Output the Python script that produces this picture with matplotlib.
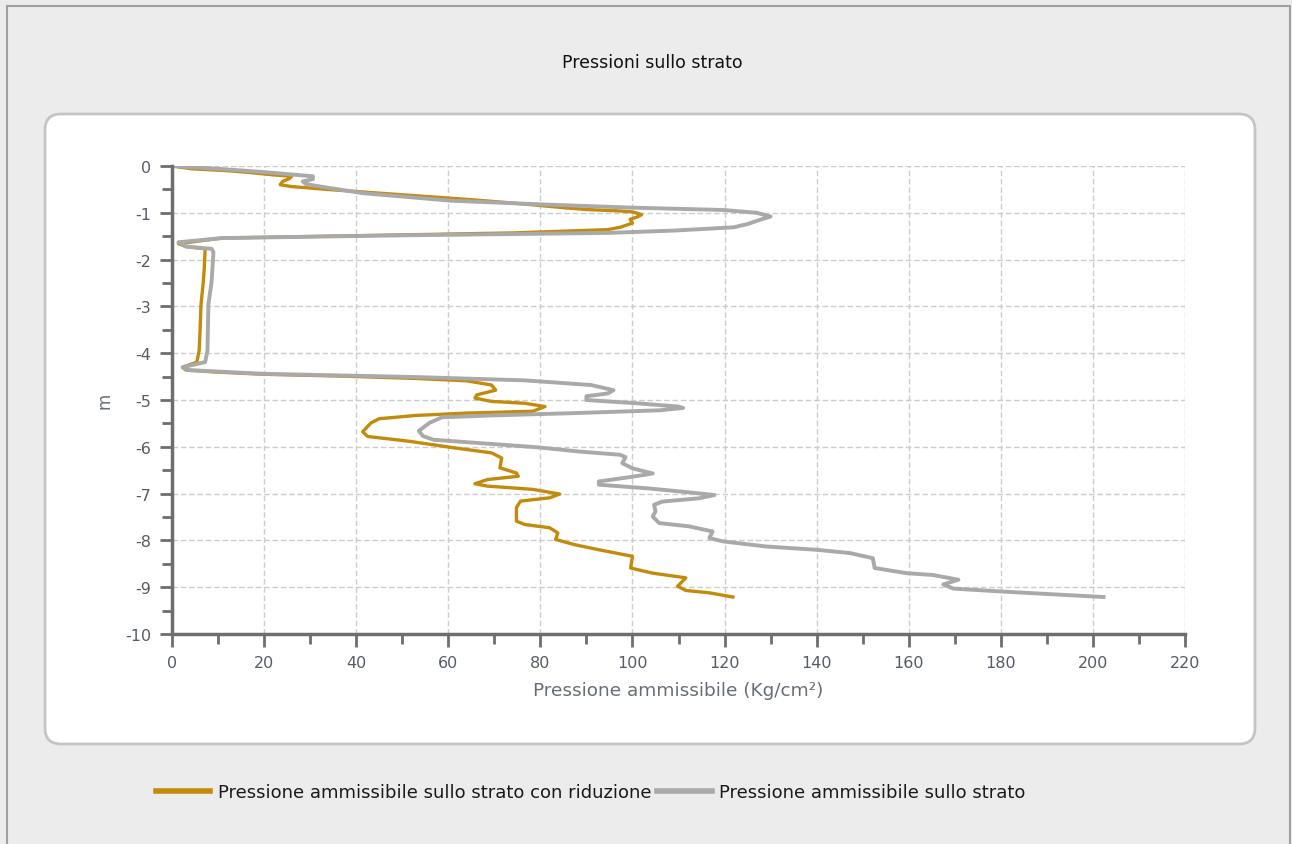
import matplotlib
matplotlib.use('Agg')
import matplotlib.pyplot as plt
from matplotlib.patches import FancyBboxPatch, Rectangle
from matplotlib.transforms import IdentityTransform
from matplotlib.ticker import MultipleLocator

plt.rcParams['font.family'] = ['DejaVu Sans']
plt.rcParams['axes.unicode_minus'] = False

# pressione ammissibile con riduzione (Kg/cm2) vs profondita (m)
rid_p = [0, 4.3, 12, 17, 22, 26, 25.5, 24, 23.5, 26, 35, 45, 55, 65, 75, 85, 90, 97, 100, 102, 101,
         99.5, 100, 97.3, 94.6, 74, 51, 28, 10.8, 1.4, 3, 7.2, 7.0, 6.8, 6.3, 6.1, 5.9, 5.4, 2.3, 3,
         9, 19.8, 37, 53, 64, 69.4, 70.3, 66.2, 65.8, 69.4, 76.6, 81, 78.4, 64, 53, 45, 43.2, 41.4,
         42.5, 51.4, 60.4, 69.4, 71.6, 71.2, 74.8, 75.2, 68.5, 65.8, 68.5, 78.4, 84.2, 82, 75.7, 74.8,
         74.8, 76.6, 82, 83.8, 83.3, 87.4, 92.7, 100, 99.6, 104.4, 111.6, 109.8, 111.6, 116.7, 121.8]
rid_z = [0, -0.06, -0.10, -0.14, -0.19, -0.22, -0.27, -0.33, -0.40, -0.44, -0.51, -0.58, -0.65, -0.72,
         -0.80, -0.89, -0.93, -0.96, -0.98, -1.04, -1.09, -1.14, -1.22, -1.31, -1.36, -1.43, -1.47,
         -1.51, -1.54, -1.66, -1.72, -1.77, -2.2, -2.47, -2.96, -3.5, -3.94, -4.19, -4.30, -4.36,
         -4.40, -4.45, -4.49, -4.54, -4.59, -4.68, -4.79, -4.89, -4.96, -5.03, -5.07, -5.14, -5.24,
         -5.28, -5.33, -5.40, -5.49, -5.68, -5.78, -5.88, -6.01, -6.13, -6.24, -6.45, -6.56, -6.63,
         -6.70, -6.79, -6.84, -6.91, -7.01, -7.09, -7.16, -7.30, -7.59, -7.66, -7.73, -7.84, -7.98,
         -8.09, -8.20, -8.34, -8.59, -8.70, -8.80, -8.98, -9.07, -9.12, -9.21]

# pressione ammissibile sullo strato
str_p = [0, 10, 20, 30.6, 30.6, 28.4, 29, 31, 41.4, 60.4, 80, 100, 119.8, 127, 130, 128, 125, 122,
         109, 94.6, 51, 10.8, 1.4, 3, 8.6, 9, 8.6, 7.9, 7.7, 7.2, 2.3, 3.5, 19.8, 53, 76.6, 91, 95.9,
         94.6, 90, 90, 100.9, 110, 111, 106, 87.4, 69.4, 58.6, 55.9, 53.6, 54.5, 56.8, 69.4, 79.3,
         88.3, 97.3, 98.5, 97.8, 100, 104.4, 100, 92.7, 92.7, 103.6, 110.9, 117.8, 114.5, 106.5,
         104.7, 105, 104.4, 105.8, 112.3, 117.4, 116.7, 119.6, 129, 139.9, 147.2, 152.2, 152.6,
         159.5, 165.3, 170.8, 167.5, 169.7, 179.8, 192.9, 202.3]
str_z = [0, -0.06, -0.13, -0.22, -0.28, -0.33, -0.38, -0.42, -0.58, -0.74, -0.82, -0.89, -0.94, -1.0,
         -1.08, -1.14, -1.24, -1.31, -1.38, -1.43, -1.48, -1.54, -1.63, -1.72, -1.77, -1.84, -2.47,
         -2.96, -3.94, -4.19, -4.30, -4.36, -4.44, -4.51, -4.58, -4.68, -4.79, -4.86, -4.92, -5.0,
         -5.07, -5.14, -5.17, -5.22, -5.28, -5.33, -5.37, -5.49, -5.66, -5.77, -5.85, -5.94, -6.01,
         -6.10, -6.17, -6.22, -6.35, -6.46, -6.57, -6.64, -6.74, -6.81, -6.89, -6.96, -7.03, -7.10,
         -7.17, -7.24, -7.38, -7.49, -7.63, -7.70, -7.81, -7.95, -8.02, -8.13, -8.20, -8.27, -8.38,
         -8.59, -8.70, -8.74, -8.84, -8.94, -9.03, -9.09, -9.16, -9.21]

orange = '#c48a0c'
grey = '#a9a9a9'
tick_col = '#555c66'

fig = plt.figure(figsize=(12.92, 8.45), dpi=100)
fig.patch.set_facecolor('#ececec')

# cornice esterna e pannello bianco arrotondato (coordinate in pixel)
fig.patches.append(Rectangle((7, -5), 1283, 843, transform=IdentityTransform(),
                             facecolor='none', edgecolor='#a0a0a0', linewidth=1.5, zorder=-10))
fig.patches.append(FancyBboxPatch((45, 100), 1210, 630, boxstyle='round,pad=0,rounding_size=16',
                                  transform=IdentityTransform(), facecolor='white',
                                  edgecolor='#c4c4c4', linewidth=2, zorder=-10))

fig.text(652 / 1292, 1 - 63 / 845, 'Pressioni sullo strato', ha='center', va='center',
         fontsize=12.5, color='#111111')

ax = fig.add_axes([172 / 1292, 1 - 635 / 845, (1185 - 172) / 1292, (635 - 167) / 845])
ax.set_facecolor('white')

l1, = ax.plot(rid_p, rid_z, color=orange, linewidth=2.4, label='Pressione ammissibile sullo strato con riduzione')
l2, = ax.plot(str_p, str_z, color=grey, linewidth=2.8, label='Pressione ammissibile sullo strato')

ax.set_xlim(0, 220)
ax.set_ylim(-10, 0)
ax.xaxis.set_major_locator(MultipleLocator(20))
ax.xaxis.set_minor_locator(MultipleLocator(10))
ax.yaxis.set_major_locator(MultipleLocator(1))
ax.yaxis.set_minor_locator(MultipleLocator(0.5))

ax.grid(which='major', color='#cccccc', linestyle=(0, (4, 2)), linewidth=1)
ax.set_axisbelow(True)

for s in ['top', 'right']:
    ax.spines[s].set_visible(False)
for s in ['left', 'bottom']:
    ax.spines[s].set_color('#6e6e6e')
    ax.spines[s].set_linewidth(2.5)

ax.tick_params(which='major', length=9, width=2, color='#6e6e6e', labelsize=11.5,
               labelcolor=tick_col, pad=6)
ax.tick_params(which='minor', length=7, width=2, color='#6e6e6e')

ax.set_xlabel('Pressione ammissibile (Kg/cm²)', fontsize=13.3, color='#666d78', labelpad=8)
ax.set_ylabel('m', fontsize=12, color='#666d78', labelpad=8)

leg = fig.legend(handles=[l1, l2], loc='center left', bbox_to_anchor=(140 / 1292, 1 - 793 / 845),
                 ncol=2, frameon=False, fontsize=13, handlelength=3.0, handletextpad=0.4,
                 columnspacing=0.35, labelcolor='#1a1a1a')
for h in leg.legend_handles:
    h.set_linewidth(4)

fig.savefig('out.png', dpi=100, facecolor=fig.get_facecolor())
